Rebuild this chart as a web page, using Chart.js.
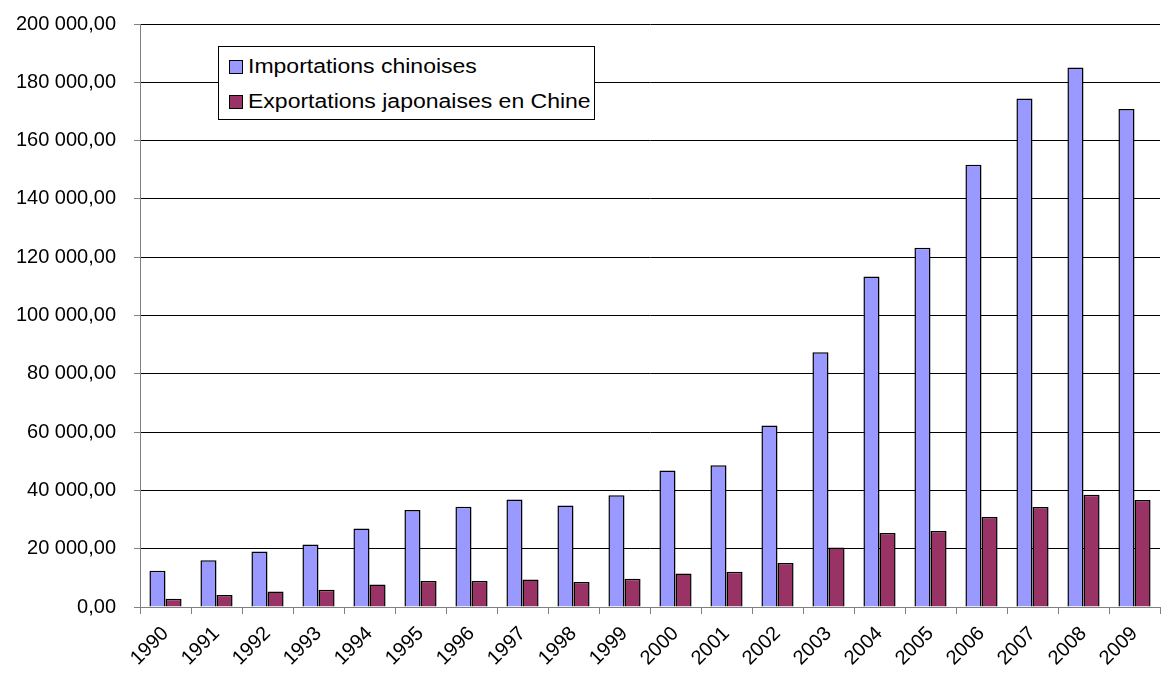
<!DOCTYPE html>
<html>
<head>
<meta charset="utf-8">
<script src="https://cdn.jsdelivr.net/npm/chart.js@4"></script>
<style>
  html, body { margin: 0; padding: 0; background: #fff; }
  #wrap { position: relative; width: 1164px; height: 679px; }
  #legend {
    position: absolute; left: 218px; top: 46px; width: 377px; height: 74px;
    border: 1px solid #000; background: #fff; box-sizing: border-box;
    font-family: "Liberation Sans", Arial, sans-serif; font-size: 20px; color: #000;
    padding: 2px 0 0 10px;
  }
  .item { display: flex; align-items: center; height: 35px; white-space: nowrap; }
  .sw { width: 12px; height: 12px; border: 1px solid #000; margin-right: 5px; flex: none; }
  .txt { display: inline-block; transform: scaleX(1.15); transform-origin: left center; }
</style>
</head>
<body>
<div id="wrap">
  <canvas id="chart" width="1164" height="679"></canvas>
  <div id="legend"></div>
</div>
<script>
const years = ["1990", "1991", "1992", "1993", "1994", "1995", "1996", "1997", "1998", "1999",
  "2000", "2001", "2002", "2003", "2004", "2005", "2006", "2007", "2008", "2009"];
const importsChina = [12400, 16000, 19000, 21400, 26900, 33300, 34400, 36900, 34800, 38300,
  46800, 48600, 62300, 87400, 113400, 123200, 151700, 174400, 185100, 170800];
const exportsJapan = [2800, 4100, 5300, 5900, 7700, 8900, 8900, 9400, 8600, 9700,
  11500, 12100, 15100, 20400, 25400, 26100, 30900, 34300, 38500, 36700];
const seriesNames = ["Importations chinoises", "Exportations japonaises en Chine"];
const colors = ["#9999FF", "#993366"];

const font = { family: "'Liberation Sans', Arial, sans-serif", size: 20 };

function fmt(v) {
  const s = Math.round(v).toString().replace(/\B(?=(\d{3})+(?!\d))/g, " ");
  return s + ",00";
}

new Chart(document.getElementById("chart"), {
  type: "bar",
  data: {
    labels: years,
    datasets: [
      { label: seriesNames[0], data: importsChina, backgroundColor: colors[0],
        borderColor: "#000", borderWidth: 1.5, barPercentage: 1, categoryPercentage: 0.63 },
      { label: seriesNames[1], data: exportsJapan, backgroundColor: colors[1],
        borderColor: "#000", borderWidth: 1.5, barPercentage: 1, categoryPercentage: 0.63 },
    ],
  },
  options: {
    responsive: false,
    animation: false,
    layout: { padding: { top: 24, right: 4, left: 0, bottom: 0 } },
    plugins: { legend: { display: false }, tooltip: { enabled: false } },
    scales: {
      x: {
        grid: { drawOnChartArea: false, color: "#808080", tickLength: 7, offset: true },
        border: { color: "#808080", width: 1 },
        ticks: { color: "#000", font: font, maxRotation: 45, minRotation: 45, padding: 8 },
        afterFit: (s) => { s.height = 72; },
      },
      y: {
        min: 0, max: 200000,
        ticks: { stepSize: 20000, color: "#000", font: font, callback: (v) => fmt(v), padding: 18 },
        grid: { color: "#000", tickLength: 6, tickColor: "#808080" },
        border: { color: "#808080", width: 1 },
        afterFit: (s) => { s.width = 140; s.paddingTop = 0; s.paddingBottom = 0; },
      },
    },
  },
});

const lg = document.getElementById("legend");
seriesNames.forEach((n, i) => {
  const d = document.createElement("div");
  d.className = "item";
  d.innerHTML = '<span class="sw" style="background:' + colors[i] + '"></span><span class="txt">' + n + "</span>";
  lg.appendChild(d);
});
</script>
</body>
</html>
